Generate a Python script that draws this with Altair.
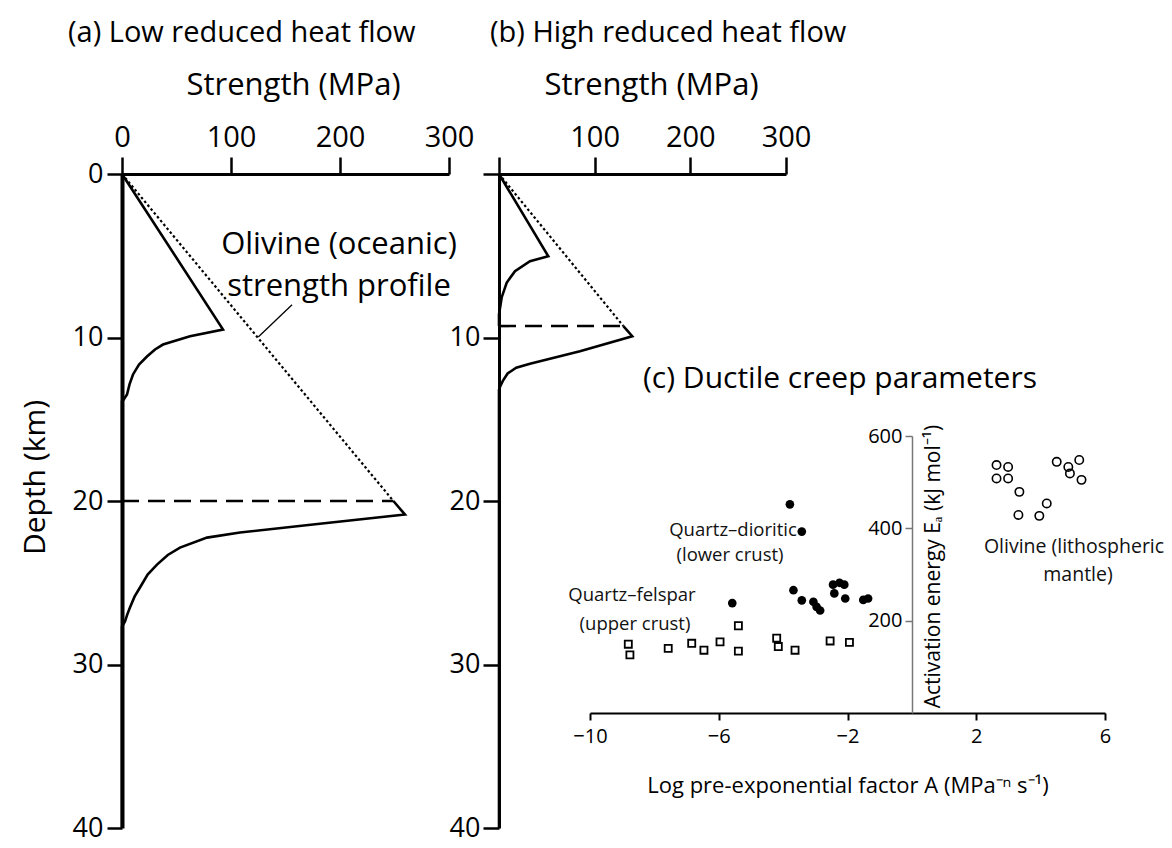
import altair as alt
import pandas as pd

# ---------------- data ----------------
# Panel (a): low reduced heat flow -- strength (MPa) vs depth (km)
A_UP_S = [0, 92.7, 62.4, 37.6, 30.3, 22.9, 15.6, 10.1, 6.9, 4.6, 1.5, 0, 0]
A_UP_D = [0, 9.51, 9.92, 10.43, 10.73, 11.16, 11.65, 12.26, 12.87, 13.49, 13.8, 13.9, 20]
A_LO_S = [249, 259.6, 175.2, 108.3, 78.0, 53.2, 42.0, 32.1, 23.5, 16.5, 11.5, 7.3, 4.8, 2.75, 0, 0]
A_LO_D = [20, 20.83, 21.44, 21.93, 22.24, 22.85, 23.3, 23.89, 24.5, 25.29, 25.85, 26.51, 26.95, 27.37, 27.68, 40]
A_OLIV_S = [0, 249]
A_OLIV_D = [0, 20]
A_JUMP_S = [0, 249]
A_JUMP_D = [20, 20]
A_LEADER_S = [156, 125]
A_LEADER_D = [8.0, 9.97]

# Panel (b): high reduced heat flow
B_UP_S = [0, 51.5, 32.4, 16.7, 8.0, 2.8, 0, 0]
B_UP_D = [0, 5.03, 5.33, 5.94, 6.65, 7.55, 8.59, 9.3]
B_LO_S = [130, 139.3, 84.6, 32.4, 18, 9, 4, 1.2, 0, 0]
B_LO_D = [9.3, 9.92, 10.84, 11.6, 11.85, 12.2, 12.65, 13.0, 13.2, 40]
B_OLIV_S = [0, 130]
B_OLIV_D = [0, 9.3]
B_JUMP_S = [0, 130]
B_JUMP_D = [9.3, 9.3]

# Panel (c): ductile creep parameters (log A, activation energy kJ/mol)
QD_LOGA = [-3.79, -3.42, -5.58, -3.68, -3.42, -3.06, -2.96, -2.85, -2.45, -2.25, -2.10, -2.41, -2.07, -1.51, -1.36]
QD_EA = [452, 393, 238, 266, 244, 241, 230, 222, 278, 282, 278, 259, 248, 245, 248]
QF_LOGA = [-5.39, -8.81, -8.76, -7.57, -6.84, -6.46, -5.96, -5.39, -4.20, -4.15, -3.63, -2.54, -1.94]
QF_EA = [189, 149, 126, 140, 151, 136, 154, 134, 162, 144, 136, 156, 153]
OL_LOGA = [2.63, 2.99, 2.63, 2.99, 3.34, 3.31, 3.96, 4.19, 4.50, 4.86, 4.91, 5.20, 5.27]
OL_EA = [537, 533, 508, 508, 479, 429, 427, 454, 544, 533, 519, 548, 505]

STRENGTH_TICKS = [0, 100, 200, 300]
DEPTH_TICKS = [0, 10, 20, 30, 40]
LOGA_TICKS = [-10, -6, -2, 2, 6]
EA_TICKS = [200, 400, 600]

FONT = "Open Sans"


def line_df(s_list, d_list, seg="0"):
    return pd.DataFrame({"s": s_list, "d": d_list, "seg": seg,
                         "i": list(range(len(s_list)))})


def multi(*pairs):
    frames = [line_df(s, d, str(k)) for k, (s, d) in enumerate(pairs)]
    return pd.concat(frames, ignore_index=True)


# ---------------- scales ----------------
SA_X = alt.Scale(domain=[0, 300], range=[0, 327], nice=False, zero=False)
SB_X = alt.Scale(domain=[0, 300], range=[377, 664], nice=False, zero=False)
SD_Y = alt.Scale(domain=[0, 40], range=[0, 654], nice=False, zero=False)
SC_X = alt.Scale(domain=[-10, 6], range=[468, 983], nice=False, zero=False)
SC_Y = alt.Scale(domain=[0, 600], range=[539, 262], nice=False, zero=False)

common_axis = dict(grid=False, labelFont=FONT, titleFont=FONT, labelColor="black",
                   titleColor="black", domainColor="black", tickColor="black",
                   labelOverlap=False, labelFlush=False, titleFontWeight="normal")

ax_a_x = alt.Axis(orient="top", values=STRENGTH_TICKS, tickSize=17, tickWidth=2.5,
                  domainWidth=3, labelFontSize=29, labelPadding=5,
                  title="Strength (MPa)", titleFontSize=31, titleX=171, titleY=-89,
                  titleBaseline="middle", titleAlign="center", **common_axis)
ax_a_y = alt.Axis(orient="left", values=DEPTH_TICKS, tickSize=15, tickWidth=2.5,
                  domainWidth=4, labelFontSize=27, labelPadding=4,
                  title="Depth (km)", titleFontSize=30, titleAngle=270,
                  titleX=-87, titleY=303, titleAlign="center", titleBaseline="middle",
                  **common_axis)
ax_b_x = alt.Axis(orient="top", values=STRENGTH_TICKS, tickSize=17, tickWidth=2.5,
                  domainWidth=3, labelFontSize=29, labelPadding=5,
                  labelExpr="datum.value == 0 ? '' : datum.label",
                  title="Strength (MPa)", titleFontSize=31, titleX=529, titleY=-89,
                  titleBaseline="middle", titleAlign="center", **common_axis)
ax_b_y = alt.Axis(orient="left", offset=-377, values=DEPTH_TICKS, tickSize=16,
                  tickWidth=2.5, domainWidth=3, labelFontSize=27, labelPadding=3,
                  labelExpr="datum.value == 0 ? '' : datum.label", title=None,
                  **common_axis)
ax_c_x = alt.Axis(orient="bottom", offset=-115, values=LOGA_TICKS, tickSize=7,
                  tickWidth=2, domainWidth=2, labelFontSize=20, labelPadding=6,
                  title="Log pre-exponential factor A (MPa\u207b\u207f s\u207b\u00b9)",
                  titleFontSize=22, titleY=72, titleBaseline="middle", **common_axis)
ax_c_y = alt.Axis(orient="left", offset=-790, values=EA_TICKS, tickSize=7,
                  tickWidth=1.5, domainWidth=1.5, labelFontSize=20, labelPadding=3,
                  title="Activation energy E\u2090 (kJ mol\u207b\u00b9)", titleFontSize=21,
                  titleAngle=270, titleX=21, titleY=392, titleAlign="center",
                  titleBaseline="middle", grid=False, labelFont=FONT, titleFont=FONT,
                  labelColor="black", titleColor="black", domainColor="#777",
                  tickColor="#777", labelOverlap=False, labelFlush=False,
                  titleFontWeight="normal")


def xenc(scale, axis=None):
    return alt.X("s:Q", scale=scale, axis=axis)


def yenc(scale, axis=None):
    return alt.Y("d:Q", scale=scale, axis=axis)


# ---------------- panel (a) ----------------
a_solid = alt.Chart(multi((A_UP_S, A_UP_D), (A_LO_S, A_LO_D))).mark_line(
    color="black", strokeWidth=2.6).encode(
    x=xenc(SA_X, ax_a_x), y=yenc(SD_Y, ax_a_y), detail="seg:N", order="i:Q")
a_dash = alt.Chart(line_df(A_JUMP_S, A_JUMP_D)).mark_line(
    color="black", strokeWidth=2.6, strokeDash=[17, 9]).encode(
    x=xenc(SA_X), y=yenc(SD_Y), order="i:Q")
a_dot = alt.Chart(line_df(A_OLIV_S, A_OLIV_D)).mark_line(
    color="black", strokeWidth=2.2, strokeDash=[2.5, 2.5]).encode(
    x=xenc(SA_X), y=yenc(SD_Y), order="i:Q")
a_leader = alt.Chart(line_df(A_LEADER_S, A_LEADER_D)).mark_line(
    color="black", strokeWidth=1.3).encode(
    x=xenc(SA_X), y=yenc(SD_Y), order="i:Q")

# ---------------- panel (b) ----------------
b_solid = alt.Chart(multi((B_UP_S, B_UP_D), (B_LO_S, B_LO_D))).mark_line(
    color="black", strokeWidth=2.6).encode(
    x=xenc(SB_X, ax_b_x), y=yenc(SD_Y, ax_b_y), detail="seg:N", order="i:Q")
b_dash = alt.Chart(line_df(B_JUMP_S, B_JUMP_D)).mark_line(
    color="black", strokeWidth=2.6, strokeDash=[17, 9]).encode(
    x=xenc(SB_X), y=yenc(SD_Y), order="i:Q")
b_dot = alt.Chart(line_df(B_OLIV_S, B_OLIV_D)).mark_line(
    color="black", strokeWidth=2.2, strokeDash=[2.5, 2.5]).encode(
    x=xenc(SB_X), y=yenc(SD_Y), order="i:Q")

# ---------------- panel (c) ----------------
qd = pd.DataFrame({"a": QD_LOGA, "e": QD_EA})
qf = pd.DataFrame({"a": QF_LOGA, "e": QF_EA})
ol = pd.DataFrame({"a": OL_LOGA, "e": OL_EA})

c_qd = alt.Chart(qd).mark_point(shape="circle", filled=True, color="black",
                                size=75, opacity=1).encode(
    x=alt.X("a:Q", scale=SC_X, axis=ax_c_x), y=alt.Y("e:Q", scale=SC_Y, axis=ax_c_y))
c_qf = alt.Chart(qf).mark_point(shape="square", filled=False, color="black",
                                size=50, strokeWidth=1.8, opacity=1).encode(
    x=alt.X("a:Q", scale=SC_X, axis=None), y=alt.Y("e:Q", scale=SC_Y, axis=None))
c_ol = alt.Chart(ol).mark_point(shape="circle", filled=False, color="black",
                                size=70, strokeWidth=1.6, opacity=1).encode(
    x=alt.X("a:Q", scale=SC_X, axis=None), y=alt.Y("e:Q", scale=SC_Y, axis=None))


# ---------------- text annotations ----------------
def label(text, x, y, size, align="left", color="black"):
    return alt.Chart(pd.DataFrame({"t": [text]})).mark_text(
        font=FONT, fontSize=size, align=align, baseline="middle", color=color).encode(
        text="t:N", x=alt.value(x), y=alt.value(y))


texts = [
    label("(a) Low reduced heat flow", -54, -141, 29),
    label("(b) High reduced heat flow", 368, -141, 29),
    label("(c) Ductile creep parameters", 521, 205, 30),
    label("Olivine (oceanic)", 217, 71, 31, "center"),
    label("strength profile", 217, 113, 31, "center"),
    label("Quartz\u2013dioritic", 611, 356, 18.5, "center", "#111"),
    label("(lower crust)", 608, 381, 18.5, "center", "#111"),
    label("Quartz\u2013felspar", 510, 421, 18.5, "center", "#111"),
    label("(upper crust)", 513, 450, 18.5, "center", "#111"),
    label("Olivine (lithospheric", 952, 373, 19.5, "center", "#111"),
    label("mantle)", 956, 401, 19.5, "center", "#111"),
]

chart = alt.layer(
    a_solid, a_dash, a_dot, a_leader,
    b_solid, b_dash, b_dot,
    c_qd, c_qf, c_ol,
    *texts,
).resolve_scale(x="independent", y="independent").properties(
    width=900, height=654,
    autosize=alt.AutoSizeParams(type="none"),
    padding={"left": 114, "top": 166, "right": 142, "bottom": 18},
).configure(background="white", view=alt.ViewConfig(stroke=None))

chart.save("out.html", embed_options={"renderer": "svg", "actions": False})
